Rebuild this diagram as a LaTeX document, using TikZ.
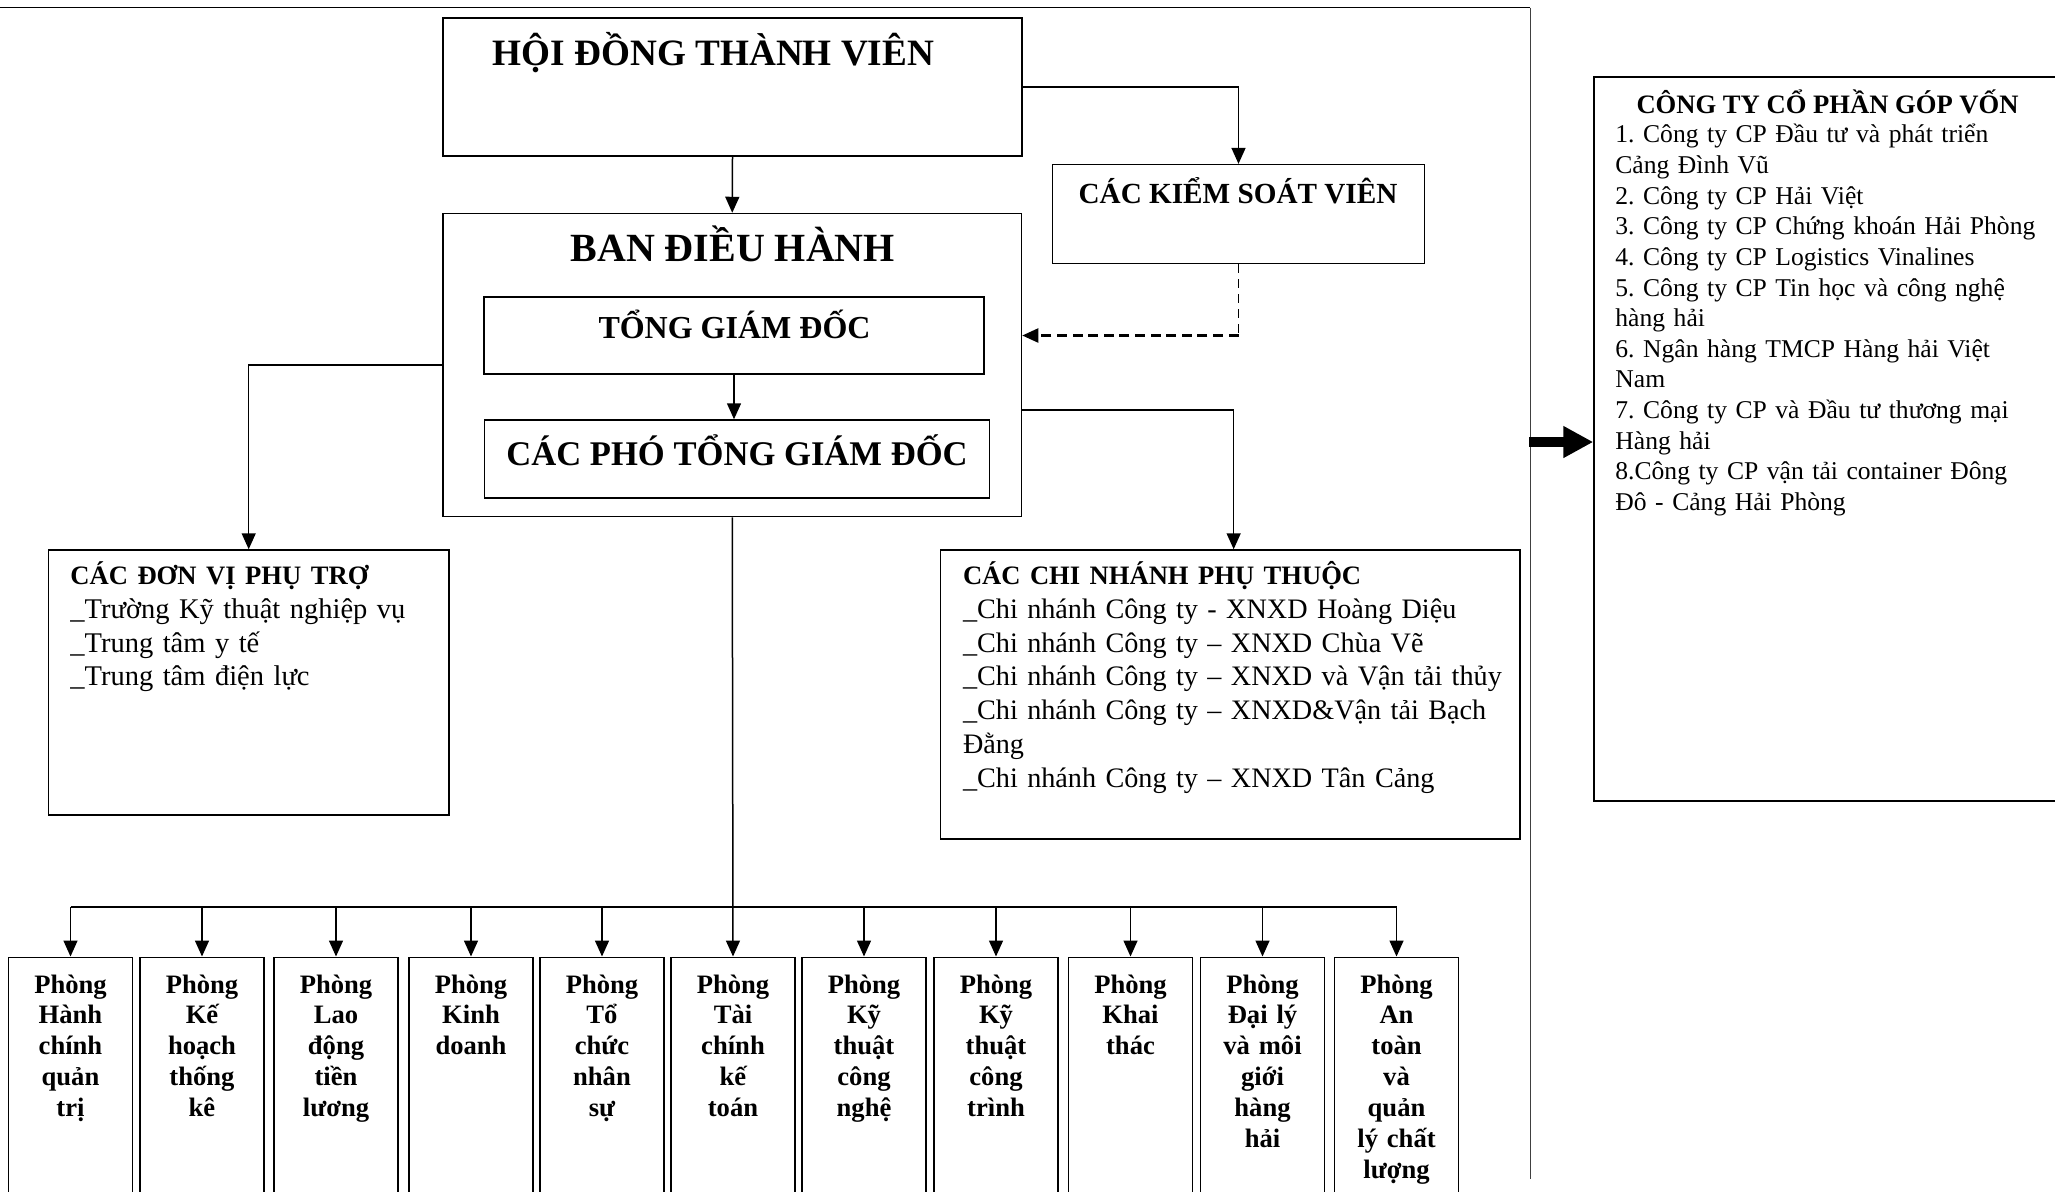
\documentclass[tikz,border=0pt]{standalone}
\usepackage{fontspec}
\setmainfont{Liberation Serif}
\usetikzlibrary{arrows.meta}
\frenchspacing
\begin{document}
\begin{tikzpicture}[x=0.5pt,y=-0.5pt]
\tikzset{
  box/.style={draw, line width=0.75pt, inner sep=0pt, rectangle},
  arr/.style={line width=0.75pt, -{Triangle[length=8pt,width=7pt]}},
  dash1/.style={line width=0.7pt, dash pattern=on 4.5pt off 3pt},
  dash2/.style={line width=1.1pt, dash pattern=on 5pt off 2.8pt, -{Triangle[length=8pt,width=7pt]}},
  phong/.style={box, minimum width=62pt, minimum height=125pt, anchor=north},
  ptext/.style={inner sep=0pt, text width=62pt, align=center, anchor=base, font=\fontsize{13.3}{15.45}\selectfont\bfseries},
  title/.style={inner sep=0pt, anchor=base},
  listtext/.style={inner sep=0pt, anchor=base west, align=left},
  bigarrow/.style={line width=5pt, -{Triangle[length=15pt,width=15pt]}}
}
\useasboundingbox (0,0) rectangle (2055,1191);

% frame lines
\draw[line width=0.6pt] (0,7.6) -- (1530,7.6);
\draw[line width=0.5pt, black!75] (1530,7.6) -- (1530,1179);

% main boxes
\node[box, minimum width=289.5pt, minimum height=69pt] (hdtv) at (732.5,87) {};
\node[title, font=\fontsize{18.6}{20}\selectfont\bfseries] (thdtv) at (713.5,65.5) {HỘI ĐỒNG THÀNH VIÊN};

\node[box, minimum width=289.25pt, minimum height=151.5pt] (bdh) at (732.25,365) {};
\node[title, font=\fontsize{20}{22}\selectfont\bfseries] (tbdh) at (732.7,261.7) {BAN ĐIỀU HÀNH};

\node[box, minimum width=250pt, minimum height=38.5pt] (tgd) at (734,335.5) {};
\node[title, font=\fontsize{16}{18}\selectfont\bfseries] (ttgd) at (734.5,338.3) {TỔNG GIÁM ĐỐC};

\node[box, minimum width=252.5pt, minimum height=39pt] (pho) at (737,459) {};
\node[title, font=\fontsize{17.3}{19}\selectfont\bfseries] (tpho) at (737,465) {CÁC PHÓ TỔNG GIÁM ĐỐC};

\node[box, minimum width=186pt, minimum height=49.4pt] (ksv) at (1238.5,214) {};
\node[title, font=\fontsize{14.6}{16}\selectfont\bfseries] (tksv) at (1238,203.3) {CÁC KIỂM SOÁT VIÊN};

\node[box, minimum width=200.3pt, minimum height=132.5pt] (donvi) at (248.7,682.5) {};
\node[listtext, text width=200pt, font=\fontsize{14.25}{16.9}\selectfont] (tdonvi) at (70,584.4)
 {{\fontsize{13.3}{16.9}\selectfont\bfseries CÁC ĐƠN VỊ PHỤ TRỢ}\\
  \_Trường Kỹ thuật nghiệp vụ\\
  \_Trung tâm y tế\\
  \_Trung tâm điện lực};

\node[box, minimum width=289.75pt, minimum height=144.5pt] (chinhanh) at (1230.25,694.5) {};
\node[listtext, text width=300pt, font=\fontsize{14.1}{16.9}\selectfont] (tchinhanh) at (962.6,584.4)
 {{\fontsize{13.3}{16.9}\selectfont\bfseries CÁC CHI NHÁNH PHỤ THUỘC}\\
  \_Chi nhánh Công ty - XNXD Hoàng Diệu\\
  \_Chi nhánh Công ty – XNXD Chùa Vẽ\\
  \_Chi nhánh Công ty – XNXD và Vận tải thủy\\
  \_Chi nhánh Công ty – XNXD\&Vận tải Bạch\\
  Đằng\\
  \_Chi nhánh Công ty – XNXD Tân Cảng};

\node[box, minimum width=234pt, minimum height=362pt] (congty) at (1828,439) {};
\node[title, font=\fontsize{13.3}{15}\selectfont\bfseries] (tcongty) at (1827.5,113.3) {CÔNG TY CỔ PHẦN GÓP VỐN};
\node[listtext, text width=240pt, font=\fontsize{12.8}{15.33}\selectfont] (lcongty) at (1615,142.7)
 {1. Công ty CP Đầu tư và phát triển\\
  Cảng Đình Vũ\\
  2. Công ty CP Hải Việt\\
  3. Công ty CP Chứng khoán Hải Phòng\\
  4. Công ty CP Logistics Vinalines\\
  5. Công ty CP Tin học và công nghệ\\
  hàng hải\\
  6. Ngân hàng TMCP Hàng hải Việt\\
  Nam\\
  7. Công ty CP và Đầu tư thương mại\\
  Hàng hải\\
  8.Công ty CP vận tải container Đông\\
  Đô - Cảng Hải Phòng};

% departments
\foreach \i/\x/\t in {
  1/70.5/{Phòng\\Hành\\chính\\quản\\trị},
  2/202/{Phòng\\Kế\\hoạch\\thống\\kê},
  3/336/{Phòng\\Lao\\động\\tiền\\lương},
  4/471/{Phòng\\Kinh\\doanh},
  5/602/{Phòng\\Tổ\\chức\\nhân\\sự},
  6/733/{Phòng\\Tài\\chính\\kế\\toán},
  7/864/{Phòng\\Kỹ\\thuật\\công\\nghệ},
  8/996/{Phòng\\Kỹ\\thuật\\công\\trình},
  9/1130.5/{Phòng\\Khai\\thác},
  10/1262.5/{Phòng\\Đại lý\\và môi\\giới\\hàng\\hải},
  11/1396.5/{Phòng\\An\\toàn\\và\\quản\\lý chất\\lượng}}{
  \node[phong] (p\i) at (\x,956.5) {};
  \node[ptext] (pt\i) at (\x,993) {\t};
}

% connectors
\draw[arr] (hdtv.south) -- (bdh.north);
\draw[arr] (hdtv.east) -| (ksv.north);
\coordinate (kc) at (ksv.south |- tgd.east);
\draw[dash1] (ksv.south) -- (kc);
\draw[dash2] (kc) -- (bdh.east |- tgd.east);
\draw[arr] (tgd.south) -- (tgd.south |- pho.north);
\draw[arr] (bdh.west) -| (donvi.north);
\draw[arr] ([yshift=-22.5pt]bdh.east) -| ([xshift=1.7pt]chinhanh.north);
\draw[arr] (bdh.south) -- (p6.north);
\coordinate (bus) at (733,907);
\draw[line width=0.75pt] (p1.north |- bus) -- (p11.north |- bus);
\foreach \i in {1,2,3,4,5,7,8,9,10,11}{
  \draw[arr] (p\i.north |- bus) -- (p\i.north);
}
\coordinate (sep) at (1529,442);
\draw[bigarrow] (sep) -- (sep -| congty.west);
\end{tikzpicture}
\end{document}
